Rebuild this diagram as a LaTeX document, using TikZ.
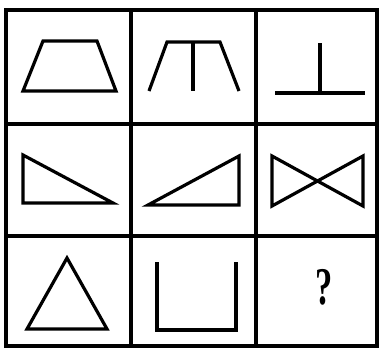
\documentclass[tikz,border=0pt]{standalone}
\usepackage{fontspec}
\newfontfamily\qfont{Liberation Serif}
\begin{document}
\begin{tikzpicture}[x=1pt,y=-1pt,
  gridline/.style={line width=3.4pt,black},
  figline/.style={line width=3.2pt,black,line join=miter}]
\useasboundingbox (0,0) rectangle (379,349);
% grid
\draw[gridline] (6,10) rectangle (377,346);
\draw[gridline] (131,10) -- (131,346);
\draw[gridline] (256,10) -- (256,346);
\draw[gridline] (6,124) -- (377,124);
\draw[gridline] (6,236) -- (377,236);
% row 1
\draw[figline] (23,91) -- (116,91) -- (97,41) -- (43,41) -- cycle;
\draw[figline] (149,91) -- (167,42) -- (220,42) -- (239,91);
\draw[figline] (193,42) -- (193,91);
\draw[figline] (275,93) -- (365,93);
\draw[figline] (320,43) -- (320,93);
% row 2
\draw[figline] (23,155) -- (23,203) -- (113,203) -- cycle;
\draw[figline] (148,205) -- (239,205) -- (239,156) -- cycle;
\draw[figline] (272,156) -- (272,206) -- (363,156) -- (363,206) -- cycle;
% row 3
\draw[figline] (67,258) -- (107,329) -- (27,329) -- cycle;
\draw[figline] (157,262) -- (157,330) -- (236,330) -- (236,262);
\node[transform shape,xscale=0.65,font=\qfont\bfseries\fontsize{53}{53}\selectfont,inner sep=0] (q) at (324.5,287.5) {?};
\end{tikzpicture}
\end{document}
